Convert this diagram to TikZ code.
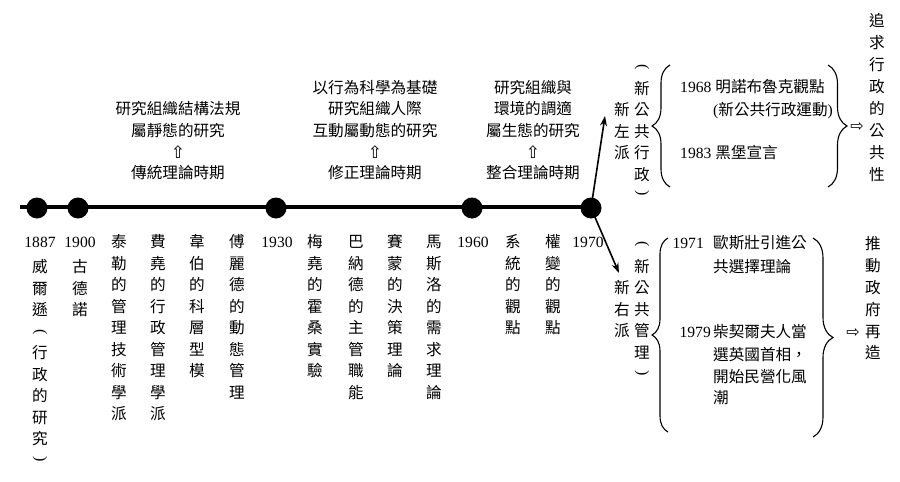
\documentclass[tikz,border=0pt]{standalone}
\usepackage{fontspec}
\setmainfont{Liberation Serif}
\newfontfamily\cjk{Noto Sans CJK TC}
\newfontfamily\lat{Liberation Serif}
\newfontfamily\sym{DejaVu Sans}
\usetikzlibrary{arrows.meta,decorations.pathreplacing}
\newcommand\yr[1]{{\lat #1}}
\newcommand\vcol[5]{\foreach \c [count=\i] in {#5} {\node[ch] (#1-\i) at (#2,{#3+(\i-1)*#4}) {\c};}}
\begin{document}
\begin{tikzpicture}[x=1pt,y=-1pt,
  ch/.style={font=\cjk\fontsize{15.6}{18}\selectfont, inner sep=0pt, text height=13.7pt, text depth=1.9pt},
  yrs/.style={font=\lat\fontsize{15.6}{18}\selectfont, inner sep=0pt, text height=13.7pt, text depth=1.9pt},
  paren/.style={font=\lat\fontsize{16}{18}\selectfont, inner sep=0pt, rotate=-90},
  dot/.style={circle, fill=black, minimum size=21pt, inner sep=0pt},
  tline/.style={line width=3.5pt},
  arr/.style={line width=1.6pt, -{Stealth[length=10pt,width=7pt]}},
  br/.style={line width=1.1pt, decorate, decoration={brace, amplitude=#1}},
  uparr/.style={font=\sym\fontsize{17}{19}\selectfont, inner sep=0pt},
  rarr/.style={font=\sym\fontsize{16}{18}\selectfont, inner sep=0pt}]
\useasboundingbox (0,0) rectangle (900,482);

% timeline
\coordinate (tl) at (20,207);
\coordinate (te) at (591,207);
\draw[tline] (tl) -- (te);
\node[dot] (d1887) at (37,208) {};
\node[dot] (d1900) at (78,208) {};
\node[dot] (d1930) at (276,208) {};
\node[dot] (d1960) at (472,208) {};
\node[dot] (d1970) at (591,208) {};

% arrows from 1970
\coordinate (upT) at (605,116);
\coordinate (dnT) at (619,273);
\draw[arr] (d1970.center) -- (upT);
\draw[arr] (d1970.center) -- (dnT);

% top groups
\node[ch] (g1a) at (178,109) {研究組織結構法規};
\node[ch] (g1b) at (178,131) {屬靜態的研究};
\node[uparr] (g1u) at (178,152) {⇧};
\node[ch] (g1c) at (178,173) {傳統理論時期};

\node[ch] (g2a) at (375,88) {以行為科學為基礎};
\node[ch] (g2b) at (375,109) {研究組織人際};
\node[ch] (g2c) at (375,131) {互動屬動態的研究};
\node[uparr] (g2u) at (375,152) {⇧};
\node[ch] (g2d) at (375,173) {修正理論時期};

\node[ch] (g3a) at (533,88) {研究組織與};
\node[ch] (g3b) at (533,109) {環境的調適};
\node[ch] (g3c) at (533,131) {屬生態的研究};
\node[uparr] (g3u) at (533,152) {⇧};
\node[ch] (g3d) at (533,173) {整合理論時期};

% years
\node[yrs] (y1887) at (40,242) {1887};
\node[yrs] (y1900) at (80,242) {1900};
\node[yrs] (y1930) at (277,242) {1930};
\node[yrs] (y1960) at (473,242) {1960};
\node[yrs] (y1970) at (588,242) {1970};

% bottom columns
\vcol{c1}{40}{267}{21.5}{威,爾,遜}
\node[paren] (c1-p1) at (40,332) {(};
\vcol{c1b}{40}{353}{21.5}{行,政,的,研,究}
\node[paren] (c1-p2) at (40,459) {)};
\vcol{c2}{80}{267}{21.5}{古,德,諾}
\vcol{c3}{119}{242}{21.5}{泰,勒,的,管,理,技,術,學,派}
\vcol{c4}{158}{242}{21.5}{費,堯,的,行,政,管,理,學,派}
\vcol{c5}{197}{242}{21.5}{韋,伯,的,科,層,型,模}
\vcol{c6}{237}{242}{21.5}{傅,麗,德,的,動,態,管,理}
\vcol{c7}{315}{242}{21.5}{梅,堯,的,霍,桑,實,驗}
\vcol{c8}{356}{242}{21.5}{巴,納,德,的,主,管,職,能}
\vcol{c9}{395}{242}{21.5}{賽,蒙,的,決,策,理,論}
\vcol{c10}{434}{242}{21.5}{馬,斯,洛,的,需,求,理,論}
\vcol{c11}{513}{242}{21.5}{系,統,的,觀,點}
\vcol{c12}{553}{242}{21.5}{權,變,的,觀,點}

% right upper
\vcol{nl}{622}{110}{21.5}{新,左,派}
\node[paren] (npa-p1) at (642,67) {(};
\vcol{npa}{642}{88.5}{21.5}{新,公,共,行,政}
\node[paren] (npa-p2) at (642,193) {)};
\draw[br=18pt] (670,187) -- (670,65);
\node[ch, anchor=west] (t1968) at (680,87) {\yr{1968}\hspace{4pt}明諾布魯克觀點};
\node[ch, anchor=west] (t1968b) at (713,110) {\yr{(}新公共行政運動\yr{)}};
\node[ch, anchor=west] (t1983) at (680,153) {\yr{1983}\hspace{4pt}黑堡宣言};
\draw[br=19pt] (828,65) -- (828,187);
\node[rarr] (ra1) at (857,127) {⇨};
\vcol{pub}{877}{21}{22}{追,求,行,政,的,公,共,性}

% right lower
\vcol{nr}{622}{288}{21.5}{新,右,派}
\node[paren] (npm-p1) at (642,244) {(};
\vcol{npm}{642}{266.5}{21.5}{新,公,共,管,理}
\node[paren] (npm-p2) at (642,373) {)};
\draw[br=16pt] (668,432) -- (668,238);
\node[yrs, anchor=east] (y1971) at (704,243) {1971};
\node[ch, anchor=west] (t1971a) at (713,243) {歐斯壯引進公};
\node[ch, anchor=west] (t1971b) at (713,267) {共選擇理論};
\node[yrs, anchor=east] (y1979) at (711,332) {1979};
\node[ch, anchor=west] (t1979a) at (713,332) {柴契爾夫人當};
\node[ch, anchor=west] (t1979b) at (713,355) {選英國首相，};
\node[ch, anchor=west] (t1979c) at (713,377) {開始民營化風};
\node[ch, anchor=west] (t1979d) at (713,398) {潮};
\draw[br=20pt] (813,238) -- (813,437);
\node[rarr] (ra2) at (853,333) {⇨};
\vcol{reg}{873}{244}{21.8}{推,動,政,府,再,造}
\end{tikzpicture}
\end{document}
